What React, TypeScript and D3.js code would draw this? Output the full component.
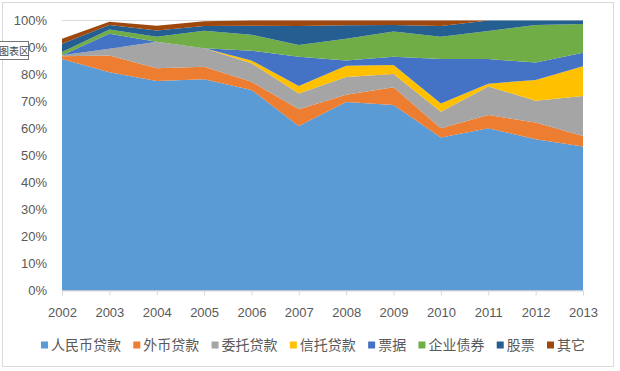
import * as d3 from "d3"
import { useEffect, useRef } from "react"

const years = [2002, 2003, 2004, 2005, 2006, 2007, 2008, 2009, 2010, 2011, 2012, 2013]
const seriesNames = ["人民币贷款", "外币贷款", "委托贷款", "信托贷款", "票据", "企业债券", "股票", "其它"]
const seriesColors = ["#5B9BD5", "#ED7D31", "#A5A5A5", "#FFC000", "#4472C4", "#70AD47", "#255E91", "#9E480E"]

// shares in %
const rmbLoans = [85.7, 80.8, 77.6, 78.2, 74.3, 60.9, 69.8, 68.7, 56.7, 60.1, 56.0, 53.3]
const fxLoans = [1.1, 6.2, 4.7, 4.7, 3.0, 6.2, 2.7, 6.6, 3.4, 4.9, 6.2, 3.9]
const entrustedLoans = [0.3, 2.5, 9.8, 6.8, 6.9, 5.9, 6.6, 4.9, 6.1, 10.6, 8.1, 14.8]
const trustLoans = [0, 0, 0, 0, 1.0, 2.7, 4.1, 3.3, 3.1, 1.0, 7.7, 11.1]
const bills = [0, 5.6, 0, 0, 3.6, 10.9, 2.0, 3.1, 16.4, 9.1, 6.4, 5.0]
const bonds = [1.2, 1.6, 1.9, 6.5, 5.9, 4.3, 8.0, 9.3, 8.3, 10.4, 13.9, 10.6]
const stocks = [3.1, 1.6, 2.3, 1.8, 3.4, 7.1, 5.0, 2.4, 4.0, 3.9, 1.7, 1.3]
const others = [1.8, 1.2, 1.8, 1.7, 1.9, 2.0, 1.8, 1.7, 2.0, 0, 0, 0]

const yTicks = [0, 10, 20, 30, 40, 50, 60, 70, 80, 90, 100]

const App = () => {
  const svgRef = useRef<SVGSVGElement | null>(null)

  useEffect(() => {
    if (!svgRef.current) return
    const svg = d3.select(svgRef.current)
    svg.selectAll("*").remove()

    const W = 620
    const H = 371
    const margin = { top: 20.5, right: 37, bottom: 80.5, left: 62 }
    const width = W - margin.left - margin.right
    const height = H - margin.top - margin.bottom

    const allSeries = [rmbLoans, fxLoans, entrustedLoans, trustLoans, bills, bonds, stocks, others]
    const table = years.map((yr, i) => {
      const row: Record<string, number> = { year: yr }
      seriesNames.forEach((name, k) => (row[name] = allSeries[k][i]))
      return row
    })

    svg.append("rect").attr("width", W).attr("height", H).attr("fill", "#fff")
    // chart area border
    svg
      .append("rect")
      .attr("x", 2.5)
      .attr("y", 2.5)
      .attr("width", 611)
      .attr("height", 364)
      .attr("fill", "none")
      .attr("stroke", "#D9D9D9")

    const chart = svg.append("g").attr("transform", `translate(${margin.left},${margin.top})`)

    const x = d3.scalePoint<number>().domain(years).range([0, width])
    const y = d3.scaleLinear().domain([0, 100]).range([height, 0])

    // gridlines
    chart
      .selectAll(".grid")
      .data(yTicks)
      .enter()
      .append("line")
      .attr("x1", 0)
      .attr("x2", width)
      .attr("y1", (d) => y(d))
      .attr("y2", (d) => y(d))
      .attr("stroke", "#D9D9D9")

    const stack = d3.stack<Record<string, number>>().keys(seriesNames)
    const layers = stack(table)

    const area = d3
      .area<d3.SeriesPoint<Record<string, number>>>()
      .x((d) => x(d.data.year)!)
      .y0((d) => y(d[0]))
      .y1((d) => y(d[1]))

    chart
      .selectAll(".layer")
      .data(layers)
      .enter()
      .append("path")
      .attr("d", (d) => area(d)!)
      .attr("fill", (d, i) => seriesColors[i])

    // x axis
    const xAxis = chart
      .append("g")
      .attr("transform", `translate(0,${height})`)
      .call(d3.axisBottom(x).tickSize(5).tickPadding(12).tickSizeOuter(0))
    xAxis.select(".domain").attr("stroke", "#D9D9D9")
    xAxis.selectAll(".tick line").attr("stroke", "#D9D9D9")
    xAxis
      .selectAll(".tick text")
      .attr("fill", "#595959")
      .style("font", "13px 'Liberation Sans', Arial, sans-serif")

    // y axis labels
    const yAxis = chart
      .append("g")
      .call(
        d3
          .axisLeft(y)
          .tickValues(yTicks)
          .tickSize(0)
          .tickPadding(15)
          .tickFormat((d) => `${d}%`),
      )
    yAxis.select(".domain").remove()
    yAxis
      .selectAll(".tick text")
      .attr("fill", "#595959")
      .style("font", "13px 'Liberation Sans', Arial, sans-serif")

    // legend, laid out in a row between x=41 and x=585
    const legend = svg
      .append("g")
      .selectAll(".leg")
      .data(seriesNames)
      .enter()
      .append("g")
    legend
      .append("rect")
      .attr("x", 0)
      .attr("y", -3.5)
      .attr("width", 7)
      .attr("height", 7)
      .attr("fill", (d, i) => seriesColors[i])
    const labels = legend
      .append("text")
      .attr("x", 10)
      .attr("dy", "0.35em")
      .attr("fill", "#595959")
      .style("font", "14px 'Noto Sans CJK SC', sans-serif")
      .text((d) => d)
    const widths: number[] = []
    labels.each(function () {
      widths.push(10 + (this as SVGTextElement).getComputedTextLength())
    })
    const gap = (585 - 41 - d3.sum(widths)) / (widths.length - 1)
    let cursor = 41
    const starts = widths.map((w) => {
      const s = cursor
      cursor += w + gap
      return s
    })
    legend.attr("transform", (d, i) => `translate(${starts[i]},345)`)

    // Excel tooltip
    const tip = svg.append("g")
    tip
      .append("rect")
      .attr("x", -3.5)
      .attr("y", 41.5)
      .attr("width", 32)
      .attr("height", 18)
      .attr("fill", "#fff")
      .attr("stroke", "#767676")
    tip
      .append("text")
      .attr("x", -1)
      .attr("y", 54.5)
      .attr("fill", "#444")
      .style("font", "10px 'Noto Sans CJK SC', sans-serif")
      .text("图表区")
  }, [])

  return (
    <svg
      ref={svgRef}
      width={620}
      height={371}
      style={{ position: "absolute", left: 0, top: 0, display: "block" }}
    />
  )
}

export default App
